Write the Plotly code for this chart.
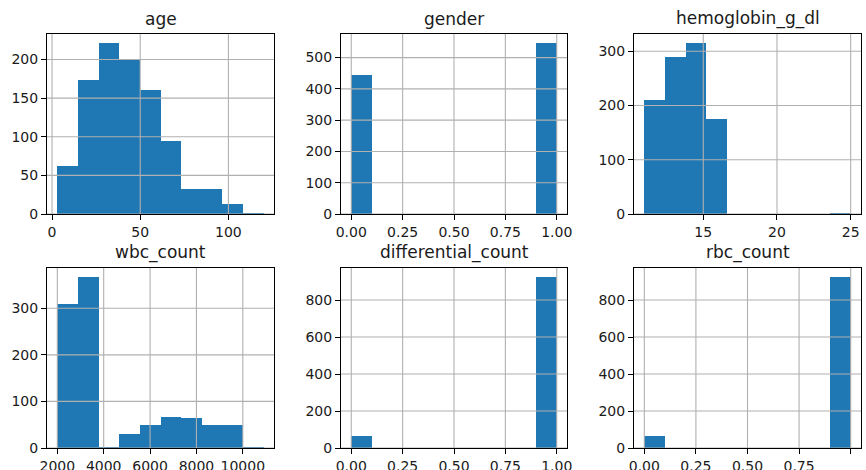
import plotly.graph_objects as go

# ---- data (histogram counts per 10 equal bins, with data min/max) ----
titles = ["age", "gender", "hemoglobin_g_dl", "wbc_count", "differential_count", "rbc_count"]

age_counts = [62, 174, 222, 201, 160, 95, 32, 32, 13, 1]
age_minmax = [3, 120]

gender_counts = [444, 0, 0, 0, 0, 0, 0, 0, 0, 548]
gender_minmax = [0, 1]

hemoglobin_counts = [211, 289, 316, 175, 0, 0, 0, 0, 0, 1]
hemoglobin_minmax = [11, 25]

wbc_counts = [310, 368, 2, 30, 50, 66, 64, 50, 50, 2]
wbc_minmax = [2000, 10900]

differential_counts = [65, 0, 0, 0, 0, 0, 0, 0, 0, 927]
differential_minmax = [0, 1]

rbc_counts = [65, 0, 0, 0, 0, 0, 0, 0, 0, 927]
rbc_minmax = [0, 1]

# tick labels
age_xticks = [0, 50, 100]
frac_xticks = [0.0, 0.25, 0.5, 0.75, 1.0]
frac_xtext = ["0.00", "0.25", "0.50", "0.75", "1.00"]
hemoglobin_xticks = [15, 20, 25]
wbc_xticks = [2000, 4000, 6000, 8000, 10000]

age_yticks = [0, 50, 100, 150, 200]
gender_yticks = [0, 100, 200, 300, 400, 500]
hemoglobin_yticks = [0, 100, 200, 300]
wbc_yticks = [0, 100, 200, 300]
binary_yticks = [0, 200, 400, 600, 800]

panels = [
    (age_counts, age_minmax, age_xticks, [str(v) for v in age_xticks], age_yticks),
    (gender_counts, gender_minmax, frac_xticks, frac_xtext, gender_yticks),
    (hemoglobin_counts, hemoglobin_minmax, hemoglobin_xticks, [str(v) for v in hemoglobin_xticks], hemoglobin_yticks),
    (wbc_counts, wbc_minmax, wbc_xticks, [str(v) for v in wbc_xticks], wbc_yticks),
    (differential_counts, differential_minmax, frac_xticks, frac_xtext, binary_yticks),
    (rbc_counts, rbc_minmax, frac_xticks, frac_xtext, binary_yticks),
]

W, H = 866, 470
col_px = [(47, 274), (341, 567), (634, 861)]
row_px = [(34, 214), (268, 448)]

BLUE = "#1f77b4"
FONT = "DejaVu Sans"
GRID = "#b0b0b0"
TXT = "#1a1a1a"

fig = go.Figure()
layout = dict(
    width=W, height=H,
    margin=dict(l=0, r=0, t=0, b=0, autoexpand=False),
    paper_bgcolor="white", plot_bgcolor="white",
    showlegend=False,
    font=dict(family=FONT, size=14, color=TXT),
    bargap=0,
)
shapes = []
annotations = []

for i, (counts, mm, xt, xtt, yt) in enumerate(panels):
    r, c = divmod(i, 3)
    n = i + 1
    xa = "x" if n == 1 else f"x{n}"
    ya = "y" if n == 1 else f"y{n}"
    xkey = "xaxis" if n == 1 else f"xaxis{n}"
    ykey = "yaxis" if n == 1 else f"yaxis{n}"

    lo, hi = mm
    nb = len(counts)
    w = (hi - lo) / nb
    centers = [lo + w * (k + 0.5) for k in range(nb)]
    fig.add_trace(go.Bar(x=centers, y=counts, width=[w] * nb,
                         marker=dict(color=BLUE, line=dict(width=0)),
                         xaxis=xa, yaxis=ya, hoverinfo="x+y"))

    span = hi - lo
    xr = [lo - 0.05 * span, hi + 0.05 * span]
    yr = [0, max(counts) * 1.05]

    x0p, x1p = col_px[c]
    y0p, y1p = row_px[r]
    xdom = [x0p / W, x1p / W]
    ydom = [1 - y1p / H, 1 - y0p / H]

    axis_common = dict(
        showgrid=False, zeroline=False, automargin=False,
        showline=True, mirror=True, linecolor="#000000", linewidth=1.1,
        ticks="outside", ticklen=5, tickwidth=1.1, tickcolor="#000000",
        tickfont=dict(family=FONT, size=14, color=TXT),
        layer="above traces", fixedrange=True,
    )
    layout[xkey] = dict(axis_common, domain=xdom, range=xr, anchor=ya,
                        tickmode="array", tickvals=xt, ticktext=xtt)
    layout[ykey] = dict(axis_common, domain=ydom, range=yr, anchor=xa,
                        tickmode="array", tickvals=yt, ticktext=[str(v) for v in yt])

    # grid lines drawn above bars (as matplotlib does)
    for v in xt:
        if xr[0] <= v <= xr[1]:
            shapes.append(dict(type="line", xref=xa, yref=f"{ya} domain",
                               x0=v, x1=v, y0=0, y1=1, layer="above",
                               line=dict(color=GRID, width=1.1)))
    for v in yt:
        shapes.append(dict(type="line", xref=f"{xa} domain", yref=ya,
                           x0=0, x1=1, y0=v, y1=v, layer="above",
                           line=dict(color=GRID, width=1.1)))

    annotations.append(dict(text=titles[i], xref="paper", yref="paper",
                            x=(xdom[0] + xdom[1]) / 2, y=ydom[1],
                            xanchor="center", yanchor="bottom", yshift=3,
                            showarrow=False,
                            font=dict(family=FONT, size=17, color=TXT)))

layout["shapes"] = shapes
layout["annotations"] = annotations
fig.update_layout(**layout)
fig.write_html("out.html",
               config={"displayModeBar": False},
               post_script="document.body.style.margin='0';document.body.style.padding='0';")
